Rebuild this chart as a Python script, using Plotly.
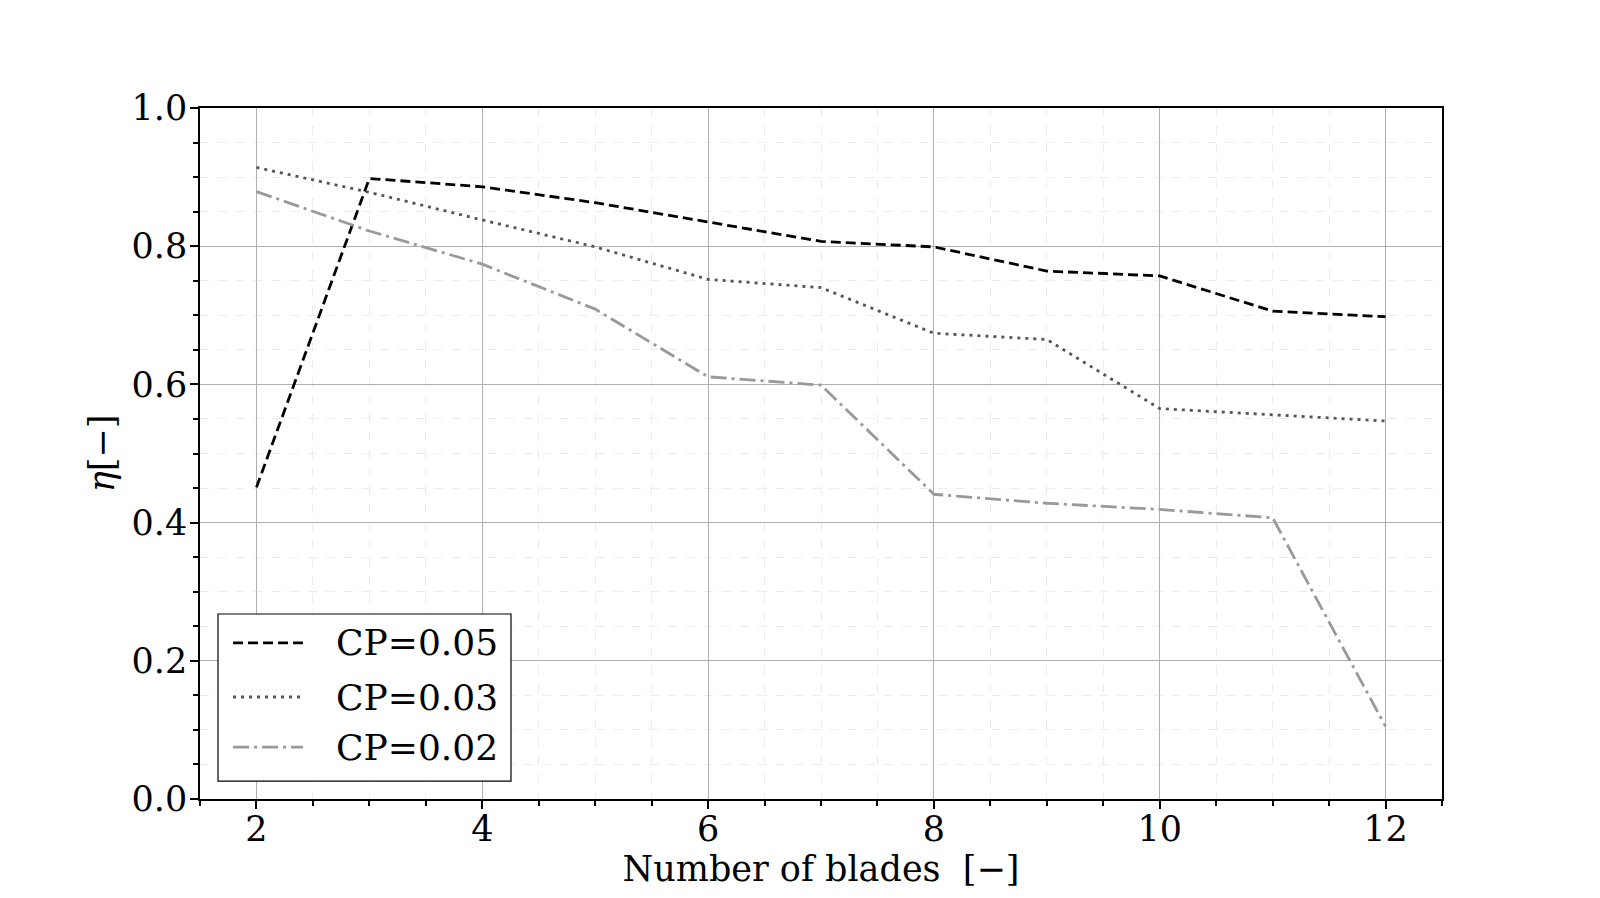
import plotly.graph_objects as go

# blade counts and efficiency per pressure coefficient
blades = [2, 3, 4, 5, 6, 7, 8, 9, 10, 11, 12]
eta_cp005 = [0.451, 0.898, 0.886, 0.863, 0.835, 0.807, 0.799, 0.764, 0.757, 0.706, 0.698]
eta_cp003 = [0.914, 0.878, 0.838, 0.799, 0.752, 0.740, 0.674, 0.665, 0.565, 0.556, 0.547]
eta_cp002 = [0.879, 0.822, 0.774, 0.709, 0.611, 0.599, 0.441, 0.428, 0.419, 0.407, 0.105]
series_names = ["CP=0.05", "CP=0.03", "CP=0.02"]

FONT = "DejaVu Serif"

fig = go.Figure()

styles = [
    dict(color="black", dash="10px,5px", width=2.8),
    dict(color="#555555", dash="3px,5px", width=2.8),
    dict(color="#999999", dash="16px,5px,3px,5px", width=2.8),
]
for name, vals, st in zip(series_names, [eta_cp005, eta_cp003, eta_cp002], styles):
    fig.add_trace(go.Scatter(x=blades, y=vals, mode="lines", name=name, line=st,
                             showlegend=False))

axis_common = dict(
    showline=True, linecolor="black", linewidth=1.5, mirror=True,
    ticks="outside", ticklen=8, tickwidth=2, tickcolor="black",
    showgrid=True, gridcolor="#b0b0b0", gridwidth=1,
    zeroline=False,
    tickfont=dict(family=FONT, size=35, color="black"),
)

fig.update_xaxes(
    **axis_common,
    range=[1.5, 12.5], tick0=0, dtick=2,
    ticklabelstandoff=-10,
    minor=dict(dtick=0.5, ticks="outside", ticklen=5, tickwidth=1.5, tickcolor="black",
               showgrid=True, gridcolor="#ececec", griddash="dash", gridwidth=1),
    title=dict(text="Number of blades  [−]", font=dict(family=FONT, size=35, color="black"),
               standoff=0),
)
fig.update_yaxes(
    **axis_common,
    range=[0, 1.0], tick0=0, dtick=0.2, tickformat=".1f",
    ticklabelstandoff=-4,
    minor=dict(dtick=0.05, ticks="outside", ticklen=5, tickwidth=1.5, tickcolor="black",
               showgrid=True, gridcolor="#ececec", griddash="dash", gridwidth=1),
    title=dict(text="<i>η</i>[−]", font=dict(family=FONT, size=35, color="black"),
               standoff=6),
)

# legend box drawn by hand so the line samples are as long as in the original
fig.add_shape(type="rect", xref="paper", yref="paper", x0=0.0145, x1=0.2504,
              y0=0.026, y1=0.2677, line=dict(color="black", width=1.2),
              fillcolor="white", layer="above")
row_y = [0.2258, 0.1476, 0.0752]
for name, st, ry in zip(series_names, styles, row_y):
    fig.add_shape(type="line", xref="paper", yref="paper", x0=0.0266, x1=0.0829,
                  y0=ry, y1=ry, line=st, layer="above")
    fig.add_annotation(xref="paper", yref="paper", x=0.1075, y=ry, text=name,
                       showarrow=False, xanchor="left", yanchor="middle",
                       font=dict(family=FONT, size=36, color="black"))

fig.update_layout(
    width=1600, height=898,
    margin=dict(l=192, r=166, t=100, b=107),
    plot_bgcolor="white", paper_bgcolor="white",
    font=dict(family=FONT, color="black"),
)

fig.write_html("out.html")
